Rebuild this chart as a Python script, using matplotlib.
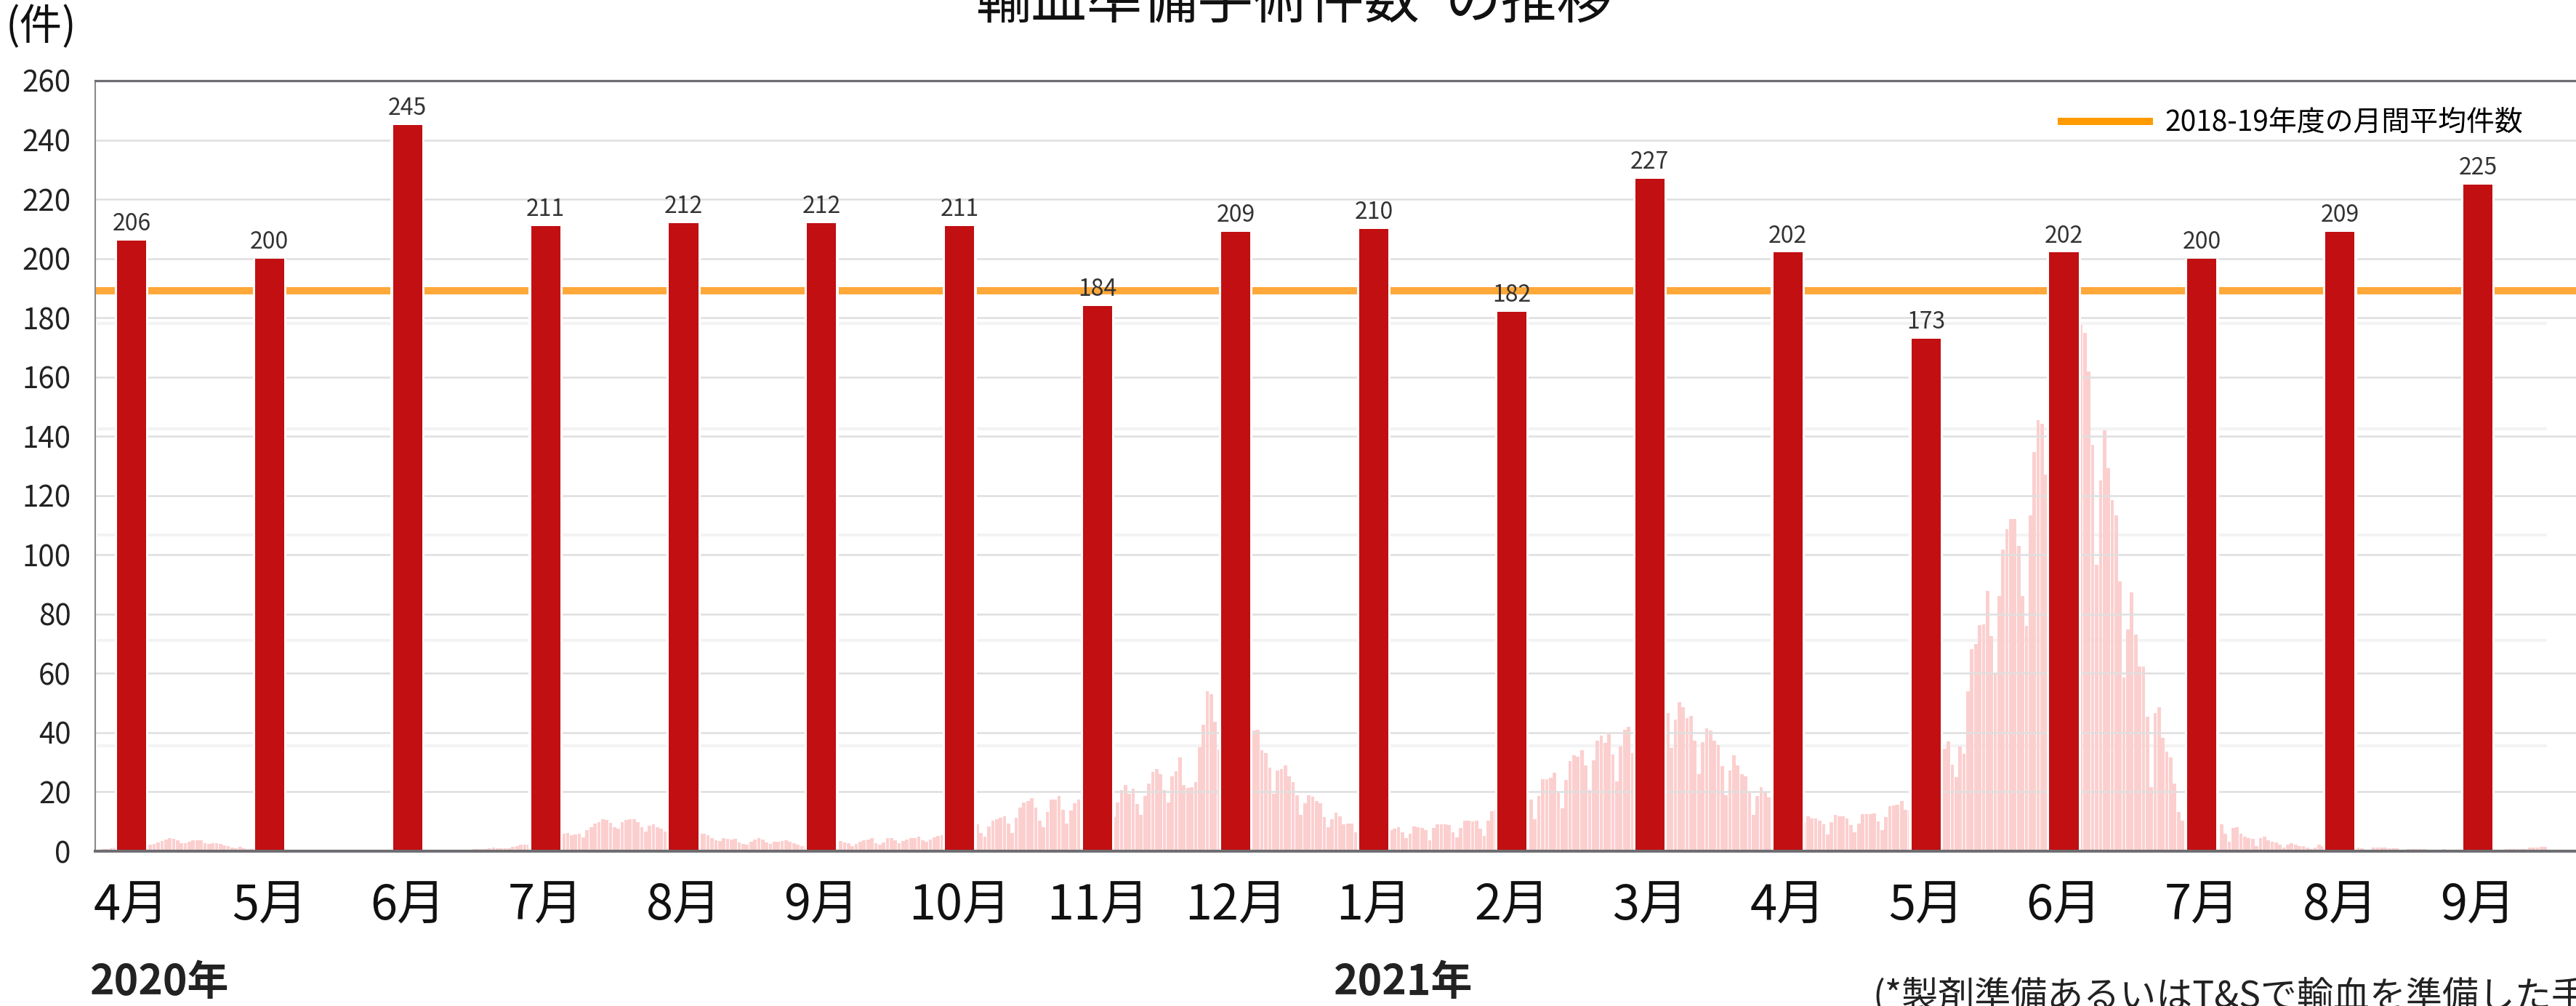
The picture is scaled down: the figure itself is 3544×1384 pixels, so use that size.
import matplotlib
matplotlib.use("Agg")
import numpy as np
import matplotlib.pyplot as plt
from matplotlib.lines import Line2D

plt.rcParams['font.family'] = ['Noto Sans CJK JP', 'DejaVu Sans']

# ---- data -------------------------------------------------------------
months = ["4月", "5月", "6月", "7月", "8月", "9月", "10月", "11月", "12月",
          "1月", "2月", "3月", "4月", "5月", "6月", "7月", "8月", "9月"]
surgeries = [206, 200, 245, 211, 212, 212, 211, 184, 209,
             210, 182, 227, 202, 173, 202, 200, 209, 225]
avg_2018_19 = 189

# daily new infections (background series, chart units)
daily_cases = [
    0.6, 0.7, 0.8, 1.0, 1.2, 1.4, 1.6, 1.8, 2.0, 2.3, 2.5, 2.4, 2.3,
    2.2, 2.5, 2.9, 3.5, 4.0, 4.3, 4.1, 3.6, 2.7, 2.6, 3.3, 3.7, 3.8, 3.6,
    2.6, 2.4, 2.7, 2.8, 2.5, 2.0, 1.6, 1.2, 1.1, 1.5, 1.0, 0.8, 0.7,
    0.6, 0.5, 0.5, 0.4, 0.4, 0.4, 0.3, 0.3,
    0.3, 0.3, 0.2, 0.2, 0.3, 0.3, 0.2, 0.2, 0.3, 0.3, 0.2, 0.3, 0.3, 0.3,
    0.3, 0.3, 0.3, 0.4, 0.4, 0.4, 0.4, 0.3, 0.4, 0.4, 0.5, 0.5, 0.5,
    0.5, 0.5, 0.4, 0.4, 0.4, 0.4, 0.4, 0.4, 0.4,
    0.4, 0.4, 0.4, 0.5, 0.5, 0.5, 0.4, 0.5, 0.6, 0.6, 0.6, 0.6, 0.7, 0.7,
    0.7, 0.8, 1.0, 1.2, 1.1, 1.0, 1.0, 1.1, 1.4, 1.7, 2.1, 2.3, 2.2,
    2.6, 3.0, 3.4, 3.8, 4.3, 4.8, 5.2, 5.6,
    6.0, 6.2, 5.3, 5.6, 5.8, 4.6, 7.0, 8.2, 9.2, 9.9, 10.9, 10.5, 9.5, 8.2,
    7.5, 9.9, 10.5, 10.7, 10.7, 9.9, 8.0, 6.6, 8.6, 9.1, 8.2, 7.6, 6.6,
    6.5, 6.2, 6.0, 5.8, 5.6, 5.4, 5.5, 5.6, 5.8,
    5.8, 5.4, 4.5, 3.8, 3.5, 4.3, 4.1, 4.0, 4.1, 3.0, 2.5, 2.1, 3.1, 4.0,
    4.5, 4.0, 3.0, 2.5, 3.3, 3.3, 3.4, 3.7, 3.2, 2.6, 2.2, 1.8, 1.6,
    1.8, 2.2, 2.6, 3.0, 3.2, 3.4, 3.5, 3.6,
    3.5, 3.0, 2.6, 1.6, 2.4, 3.3, 3.7, 4.0, 4.5, 2.8, 2.1, 3.0, 4.3, 4.5,
    3.7, 2.6, 3.4, 4.0, 4.3, 4.5, 4.9, 3.6, 3.2, 4.0, 4.6, 5.1, 5.3,
    5.5, 5.8, 6.0, 6.5, 7.0, 7.5, 8.0, 8.5,
    9.0, 6.1, 4.8, 8.3, 10.3, 10.8, 11.3, 11.7, 9.4, 6.1, 11.3, 14.8, 16.5,
    16.9, 17.9, 14.8, 10.3, 8.0, 13.2, 17.3, 17.3, 18.6, 14.0, 9.4, 13.8,
    16.1, 17.3,
    17.0, 16.0, 12.0, 10.0, 14.0, 18.0, 20.0, 15.0,
    11.5, 16.5, 20.7, 22.3, 19.5, 21.1, 16.0, 12.2, 18.6, 22.8, 26.7, 27.8,
    26.1, 20.7, 16.5, 25.3, 26.9, 31.7, 22.3, 21.3,
    21.6, 23.2, 35.0, 42.8, 54.0, 53.0, 43.6, 34.4,
    30.0, 28.0, 36.0, 45.0, 48.0, 46.0, 44.0, 42.0,
    40.7, 41.0, 34.0, 33.0, 28.2, 19.4, 27.2, 27.8, 29.0, 25.3, 23.2, 19.0,
    12.3, 16.1, 18.8, 18.5, 16.9, 16.1, 11.5, 8.2, 10.7, 13.0, 11.7, 9.0,
    9.4, 9.4, 6.5,
    8.0, 8.5, 8.0, 7.5, 6.0, 5.0, 7.0, 7.5,
    7.2, 7.5, 8.2, 6.5, 4.4, 6.0, 8.3, 8.0, 7.8,
    7.2, 3.8, 7.8, 9.0, 9.0, 9.0, 8.8, 6.5, 4.7, 7.8, 10.2, 10.2, 10.0,
    10.2, 7.5, 5.2, 10.2, 13.6,
    14.0, 13.0, 12.0, 8.0, 14.0, 18.0, 20.0, 20.0,
    19.4, 17.3, 10.7, 18.6, 24.4, 24.4, 24.8, 26.5, 19.8, 14.4, 24.0, 30.3,
    32.3, 31.9, 34.0, 29.0, 20.7, 30.7, 37.3, 39.0, 36.5, 39.4, 32.7, 23.6,
    35.2, 41.0, 41.9, 33.2,
    40.0, 38.0, 30.0, 35.0, 42.0, 44.0, 46.0, 47.0,
    46.5, 34.8, 44.4, 50.2, 48.6, 44.8, 45.7, 37.3, 26.1, 36.9, 41.5, 40.7,
    37.3, 35.7, 28.6, 19.0, 27.3, 32.3, 29.0, 26.1, 25.2, 20.0, 12.3, 18.6,
    21.5, 19.8, 18.2,
    18.8, 17.0, 12.0, 10.0, 11.0, 11.0, 10.5, 10.0,
    9.8, 11.7, 11.1, 11.0, 10.2, 9.0, 5.7, 9.8, 12.2, 11.7, 11.7, 11.1, 8.8,
    6.5, 9.4, 12.5, 12.4, 12.4, 12.7, 10.0, 7.2, 11.5,
    15.2, 15.5, 15.7, 17.0, 14.0, 13.8,
    14.0, 15.0, 17.0, 20.0, 22.0, 25.0, 28.0, 32.0,
    34.7, 37.0, 29.3, 25.1, 35.3, 32.9, 53.9, 68.3, 70.0, 76.3, 76.6, 87.8,
    72.5, 59.9, 86.2, 101.8, 108.6, 112.0, 112.0, 103.0, 86.2, 76.0, 113.2,
    134.7, 145.5, 144.3, 127.0, 106.6,
    110.0, 120.0, 135.0, 150.0, 160.0, 170.0, 175.0,
    177.6, 175.0, 162.0, 137.0, 96.6, 125.0, 141.9, 129.3, 118.5, 113.2,
    91.0, 58.7, 74.9, 87.4, 73.0, 62.3, 62.3, 45.5, 21.6, 46.7, 48.5, 38.3,
    33.5, 31.7, 22.8, 13.2, 10.2, 25.7,
    20.0, 18.0, 15.0, 14.0, 12.0, 11.0, 10.0,
    9.0, 9.0, 5.8, 3.3, 7.8, 8.1, 6.0, 5.0, 4.5, 4.1, 1.6, 4.5, 4.9, 3.7,
    3.3, 2.9, 2.1, 1.2, 2.1, 2.6, 2.1, 1.8, 1.6, 1.2, 0.8, 1.2, 2.1, 1.8,
    1.5, 1.3, 1.2, 1.0, 1.0, 1.0, 1.1, 1.2,
    1.2, 1.0, 0.6, 0.4, 1.2, 1.2, 1.2, 1.2, 1.1, 1.0, 0.9, 0.6, 0.5, 0.8,
    0.8, 0.8, 0.8, 0.8, 0.6, 0.6, 0.5, 0.4, 0.7, 0.6, 0.5, 0.5, 0.6,
    0.5, 0.5, 0.5, 0.4, 0.4, 0.4, 0.4, 0.4,
    0.4, 0.5, 0.6, 0.7, 0.7, 0.8, 0.8, 0.8, 0.7, 1.2, 1.2, 1.3, 1.5, 1.5,
]

y_ticks = list(range(0, 261, 20))
year_labels = ["2020年", "2021年"]
title_text = "輸血準備手術件数*の推移"
unit_text = "(件)"
legend_text = "2018-19年度の月間平均件数"
note_text = "(*製剤準備あるいはT&Sで輸血を準備した手術)"

# ---- styling ----------------------------------------------------------
W, H = 3544, 1384
RED = "#c10f12"
PINK = "#fccfcf"
ORANGE = "#ffa83a"
SPINE = "#6e6e72"
GRID = "#dfdfdf"

fig = plt.figure(figsize=(W / 100, H / 100), dpi=100)
left_px, top_px, bottom_px = 131, 111, 1171
ax = fig.add_axes([left_px / W, 1 - bottom_px / H,
                   1 - left_px / W, (bottom_px - top_px) / H])

# background daily series on its own x scale
ax2 = ax.twiny()
ax.set_zorder(2)
ax2.set_zorder(1)
ax.patch.set_visible(False)

days = np.arange(len(daily_cases))
faint_step = 35.6
ax2.hlines(np.arange(1, 6) * faint_step, -0.5, len(daily_cases) - 0.5,
           color="#f3f3f3", lw=3, zorder=1)
ax2.bar(days, daily_cases, width=0.88, color=PINK, linewidth=0, zorder=2)
ax2.set_xlim(-1.12, 634.9)
ax2.set_xticks([])
for s in ax2.spines.values():
    s.set_visible(False)

# monthly surgery counts
x = np.arange(len(months))
ax.set_axisbelow(True)
ax.yaxis.grid(True, color=GRID, lw=1.8)
ax.axhline(avg_2018_19, color=ORANGE, lw=7.2, zorder=2)
ax.bar(x, surgeries, width=0.245, color="white", linewidth=0, zorder=3)
bars = ax.bar(x, surgeries, width=0.211, color=RED, linewidth=0, zorder=4)
ax.bar_label(bars, padding=5, fontsize=23, color="#333333")

ax.set_xlim(-0.263, 17.71)
ax.set_ylim(0, 260)
ax.set_yticks(y_ticks)
ax.set_xticks(x, months)
ax.tick_params(axis="x", length=0, pad=30, labelsize=48, colors="#111111")
ax.tick_params(axis="y", length=0, pad=24, labelsize=29, colors="#222222")

ax.spines["right"].set_visible(False)
ax.spines["top"].set_color(SPINE)
ax.spines["top"].set_linewidth(2.3)
ax.spines["bottom"].set_color(SPINE)
ax.spines["bottom"].set_linewidth(2.9)
ax.spines["left"].set_color("#8a8a8a")
ax.spines["left"].set_linewidth(1.5)
for s in ax.spines.values():
    s.set_zorder(6)

handle = Line2D([], [], color="#ff9a00", lw=7.2)
fig.legend([handle], [legend_text], loc="center left",
           bbox_to_anchor=(2836 / W, 1 - 170 / H), frameon=False,
           fontsize=28, handlelength=3.1, handletextpad=0.55,
           borderpad=0, borderaxespad=0)

# surrounding text
fig.text(1780 / W, 1 - 25 / H, title_text, ha="center", va="baseline",
         fontsize=55, color="#111111")
fig.text(8 / W, 1 - 38 / H, unit_text, ha="left", va="center",
         fontsize=42, color="#111111")
fig.text(124 / W, 1 - 1352 / H, year_labels[0], ha="left", va="center",
         fontsize=41, fontweight="bold", color="#222222")
fig.text(1835 / W, 1 - 1352 / H, year_labels[1], ha="left", va="center",
         fontsize=41, fontweight="bold", color="#222222")
fig.text(2576 / W, 1 - 1345 / H, note_text, ha="left", va="top",
         fontsize=36, color="#222222")

fig.savefig("out.png", dpi=100)
